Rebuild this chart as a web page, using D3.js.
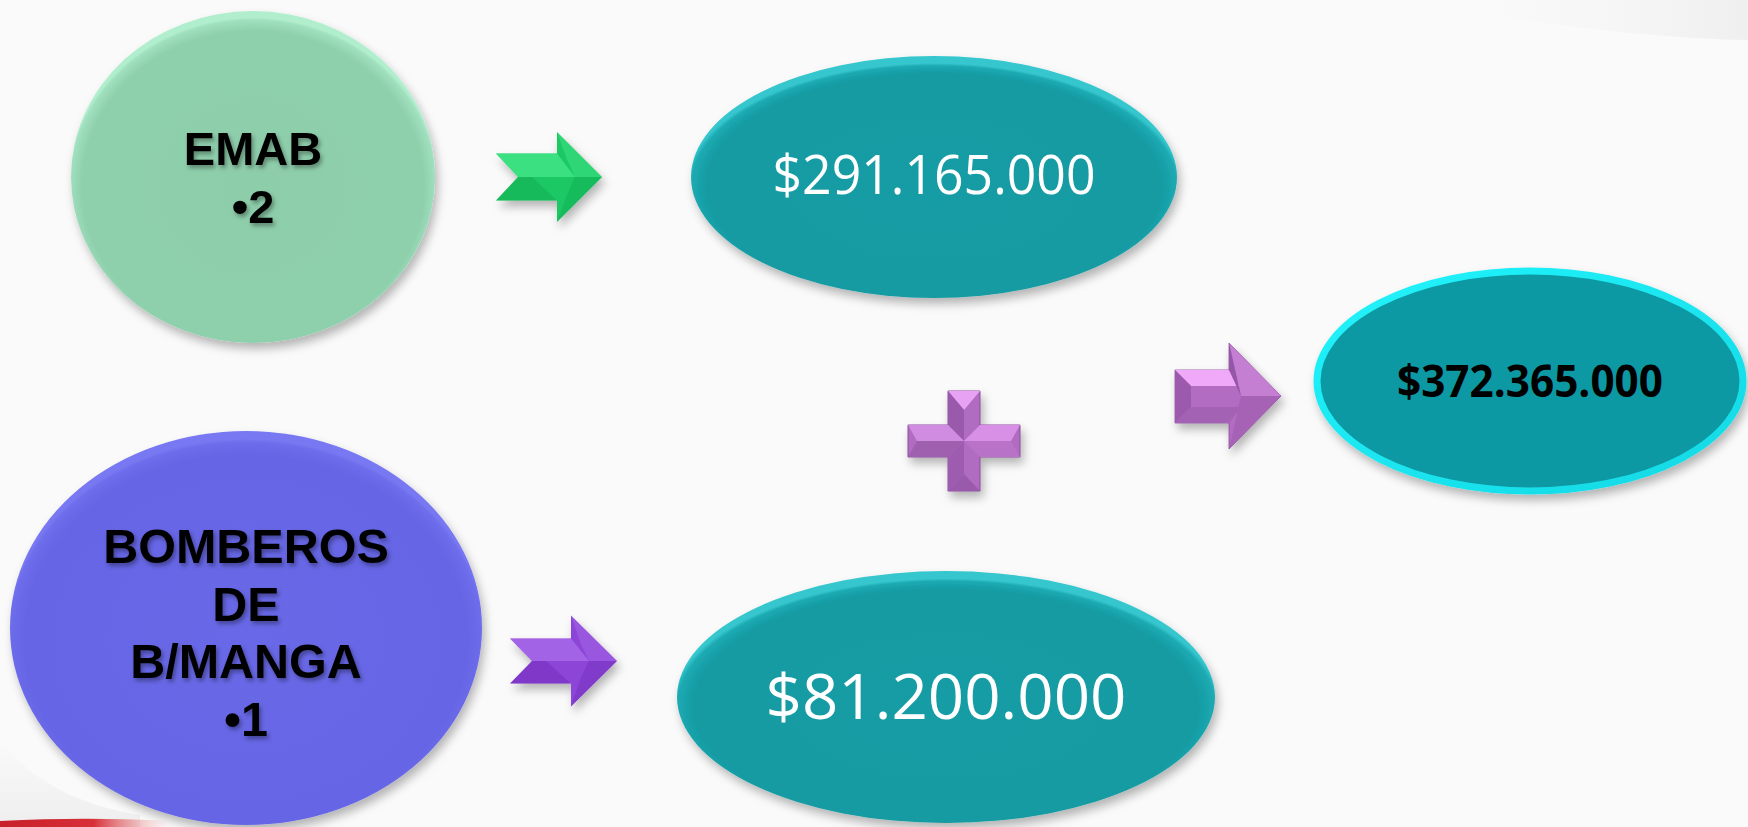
<!DOCTYPE html>
<html>
<head>
<meta charset="utf-8">
<script src="https://cdn.jsdelivr.net/npm/d3@7"></script>
<style>
  html, body { margin: 0; padding: 0; background: #fafafa; }
  svg { display: block; }
</style>
</head>
<body>
<svg id="chart"></svg>
<script>
// datos del diagrama
const entities = ["EMAB", "BOMBEROS DE B/MANGA"];
const entityLines = [["EMAB"], ["BOMBEROS", "DE", "B/MANGA"]];
const units = [2, 1];
const amounts = [291165000, 81200000];

const total = d3.sum(amounts);

const width = 1748, height = 827;
const svg = d3.select("#chart").attr("width", width).attr("height", height);

// formato pesos colombianos: $291.165.000
const cop = d3.formatLocale({decimal: ",", thousands: ".", grouping: [3], currency: ["$", ""]});
const money = cop.format("$,.0f");

// geometria por fila (arriba / abajo)
const rows = d3.scaleOrdinal().domain(entities).range([0, 1]);
const entityShape = [
  {cx: 253, cy: 177, rx: 182, ry: 166, fill: "url(#gGreen)", lineY: 165, step: 58, size: 47},
  {cx: 246, cy: 628, rx: 236, ry: 197, fill: "url(#gBlue)", lineY: 563, step: 57.5, size: 48.5}
];
const arrowShape = [
  {tail: 496, notch: 518, base: 557, tip: 602, mid: 177, sh: 23.5, hh: 45, c: ["#4cf092", "#1ec864", "#07a048"]},
  {tail: 510, notch: 532, base: 571, tip: 617, mid: 661, sh: 22.5, hh: 45.5, c: ["#b27af2", "#8c44d6", "#6a26b0"]}
];
const amountShape = [
  {cx: 934, cy: 177, rx: 243, ry: 121, base: 194, len: 323, size: 54},
  {cx: 946, cy: 697, rx: 269, ry: 126, base: 719, len: 361, size: 62}
];

const defs = svg.append("defs");

function radial(id, stops, cx, cy, r) {
  const g = defs.append("radialGradient").attr("id", id)
    .attr("cx", cx).attr("cy", cy).attr("r", r);
  stops.forEach(s => g.append("stop").attr("offset", s[0]).attr("stop-color", s[1]));
}
radial("gGreen", [[0, "#8dcdaa"], [0.92, "#8ecfac"], [0.985, "#a0e0be"], [1, "#b0eece"]], "50%", "53%", "51%");
radial("gBlue", [[0, "#6868e8"], [0.92, "#6565e5"], [0.985, "#6e6eec"], [1, "#7878f2"]], "50%", "53%", "51%");
radial("gTeal", [[0, "#129ca4"], [0.92, "#139ba3"], [0.98, "#1eaab2"], [1, "#34c6ce"]], "50%", "54%", "51%");

const rim = defs.append("linearGradient").attr("id", "gRim").attr("x1", "0%").attr("y1", "0%").attr("x2", "100%").attr("y2", "100%");
rim.append("stop").attr("offset", 0).attr("stop-color", "#22f4fc");
rim.append("stop").attr("offset", 1).attr("stop-color", "#14d8e4");

const sh = defs.append("filter").attr("id", "shadow").attr("x", "-20%").attr("y", "-20%").attr("width", "140%").attr("height", "150%");
sh.append("feDropShadow").attr("dx", 3).attr("dy", 6).attr("stdDeviation", 5)
  .attr("flood-color", "#000").attr("flood-opacity", 0.28);

const tsh = defs.append("filter").attr("id", "tshadow").attr("x", "-10%").attr("y", "-20%").attr("width", "120%").attr("height", "150%");
tsh.append("feDropShadow").attr("dx", 2).attr("dy", 3).attr("stdDeviation", 2)
  .attr("flood-color", "#000").attr("flood-opacity", 0.35);

// fondo con franjas suaves
svg.append("rect").attr("width", width).attr("height", height).attr("fill", "#fafafa");
const topFade = defs.append("linearGradient").attr("id", "gTop").attr("x1", "0%").attr("x2", "100%");
topFade.append("stop").attr("offset", 0).attr("stop-color", "#fafafa").attr("stop-opacity", 0);
topFade.append("stop").attr("offset", 1).attr("stop-color", "#ececec").attr("stop-opacity", 1);
svg.append("path")
  .attr("d", "M1400,0 L1748,0 L1748,40 C1660,38 1560,28 1400,0 Z")
  .attr("fill", "url(#gTop)").attr("opacity", 0.8);

const redFade = defs.append("linearGradient").attr("id", "gRed").attr("x1", "0%").attr("x2", "100%");
redFade.append("stop").attr("offset", 0).attr("stop-color", "#c8202a");
redFade.append("stop").attr("offset", 0.55).attr("stop-color", "#d83038");
redFade.append("stop").attr("offset", 1).attr("stop-color", "#f0a0a0").attr("stop-opacity", 0);
const greyFade = defs.append("linearGradient").attr("id", "gGrey").attr("x1", "0%").attr("x2", "0%").attr("y1", "0%").attr("y2", "100%");
greyFade.append("stop").attr("offset", 0).attr("stop-color", "#fafafa");
greyFade.append("stop").attr("offset", 1).attr("stop-color", "#eeeeee");
svg.append("path")
  .attr("d", "M0,740 C30,780 80,806 140,815 L140,827 L0,827 Z")
  .attr("fill", "url(#gGrey)");
svg.append("path")
  .attr("d", "M0,821 C60,818 110,818 170,821 L170,827 L0,827 Z")
  .attr("fill", "url(#gRed)");

// circulos de entidades
entities.forEach(name => {
  const i = rows(name), s = entityShape[i];
  const g = svg.append("g");
  g.append("ellipse")
    .attr("cx", s.cx).attr("cy", s.cy).attr("rx", s.rx).attr("ry", s.ry)
    .attr("fill", s.fill).attr("filter", "url(#shadow)");
  const lines = entityLines[i].concat(["\u2022" + units[i]]);
  g.selectAll("text").data(lines).enter().append("text")
    .attr("x", s.cx)
    .attr("y", (d, k) => s.lineY + k * s.step)
    .attr("text-anchor", "middle")
    .attr("font-family", "'Liberation Sans', Arial, sans-serif")
    .attr("font-weight", "bold")
    .attr("font-size", s.size)
    .attr("fill", "#000")
    .attr("filter", "url(#tshadow)")
    .text(d => d);
});

// flechas con bisel
function bevelArrow(a) {
  const t = a.mid - a.sh, b = a.mid + a.sh, ht = a.mid - a.hh, hb = a.mid + a.hh;
  const g = svg.append("g").attr("filter", "url(#shadow)");
  const line = d3.line();
  g.append("path").attr("d", line([[a.tail, t], [a.base, t], [a.base, ht], [a.tip, a.mid], [a.base, hb], [a.base, b], [a.tail, b], [a.notch, a.mid]]) + "Z")
    .attr("fill", a.c[1]);
  // cara superior clara
  g.append("path").attr("d", line([[a.tail, t], [a.base, t], [a.base + 18, a.mid], [a.notch + 14, a.mid], [a.notch, a.mid]]) + "Z")
    .attr("fill", a.c[0]).attr("opacity", 0.6);
  g.append("path").attr("d", line([[a.base, ht], [a.tip, a.mid], [a.base + 18, a.mid], [a.base + 10, t + 6]]) + "Z")
    .attr("fill", a.c[0]).attr("opacity", 0.35);
  // cara inferior oscura
  g.append("path").attr("d", line([[a.tail, b], [a.notch, a.mid], [a.notch + 14, a.mid], [a.base, b]]) + "Z")
    .attr("fill", a.c[2]).attr("opacity", 0.35);
  g.append("path").attr("d", line([[a.base, hb], [a.tip, a.mid], [a.base + 18, a.mid], [a.base + 10, b - 6]]) + "Z")
    .attr("fill", a.c[2]).attr("opacity", 0.3);
}
arrowShape.forEach(bevelArrow);

// montos
entities.forEach(name => {
  const i = rows(name), s = amountShape[i];
  svg.append("ellipse")
    .attr("cx", s.cx).attr("cy", s.cy).attr("rx", s.rx).attr("ry", s.ry)
    .attr("fill", "url(#gTeal)").attr("filter", "url(#shadow)");
  svg.append("text")
    .attr("x", s.cx).attr("y", s.base)
    .attr("text-anchor", "middle")
    .attr("font-family", "'Open Sans', 'Noto Sans', sans-serif")
    .attr("font-size", s.size)
    .attr("textLength", s.len)
    .attr("lengthAdjust", "spacingAndGlyphs")
    .attr("fill", "#fff")
    .text(money(amounts[i]));
});

// signo mas
(function plus() {
  const cx = 964, cy = 441, w = 16, L = 56, H = 50, d = 9;
  const g = svg.append("g").attr("filter", "url(#shadow)");
  const line = d3.line();
  g.append("path")
    .attr("d", line([[cx - w, cy - H], [cx + w, cy - H], [cx + w, cy - w], [cx + L, cy - w], [cx + L, cy + w],
      [cx + w, cy + w], [cx + w, cy + H], [cx - w, cy + H], [cx - w, cy + w], [cx - L, cy + w], [cx - L, cy - w], [cx - w, cy - w]]) + "Z")
    .attr("fill", "#b06cc0").attr("stroke", "#8a4c9c").attr("stroke-width", 1);
  // biseles
  g.append("path").attr("d", line([[cx - w, cy - H], [cx + w, cy - H], [cx, cy - H + d + 10]]) + "Z").attr("fill", "#e8a2f4");
  g.append("path").attr("d", line([[cx - w, cy - H], [cx, cy - H + d + 10], [cx, cy], [cx - w, cy - w]]) + "Z").attr("fill", "#9a5aac");
  g.append("path").attr("d", line([[cx - L, cy - w], [cx - w, cy - w], [cx, cy], [cx - L + d, cy]]) + "Z").attr("fill", "#d08ce0");
  g.append("path").attr("d", line([[cx + w, cy - w], [cx + L, cy - w], [cx + L - d, cy], [cx, cy]]) + "Z").attr("fill", "#d890e6");
  g.append("path").attr("d", line([[cx - L, cy + w], [cx - L + d, cy], [cx, cy], [cx - w, cy + w]]) + "Z").attr("fill", "#a060b0");
  g.append("path").attr("d", line([[cx + L, cy + w], [cx + L - d, cy], [cx, cy], [cx + w, cy + w]]) + "Z").attr("fill", "#b872c8");
  g.append("path").attr("d", line([[cx - w, cy + H], [cx + w, cy + H], [cx, cy + H - d - 8]]) + "Z").attr("fill", "#9a5aac");
  g.append("path").attr("d", line([[cx - w, cy + w], [cx, cy], [cx, cy + H - d - 8], [cx - w, cy + H]]) + "Z").attr("fill", "#9e5cb0");
})();

// flecha hacia el total
(function sumArrow() {
  const tail = 1175, base = 1229, tip = 1281, mid = 396, t = 370, b = 423, ht = 343, hb = 449, d = 16;
  const g = svg.append("g").attr("filter", "url(#shadow)");
  const line = d3.line();
  g.append("path").attr("d", line([[tail, t], [base, t], [base, ht], [tip, mid], [base, hb], [base, b], [tail, b]]) + "Z")
    .attr("fill", "#b26cc2").attr("stroke", "#8c4c9c").attr("stroke-width", 0.8);
  g.append("path").attr("d", line([[tail, t], [base, t], [base + 12, t + d], [tail + d, t + d]]) + "Z").attr("fill", "#f0a8f8");
  g.append("path").attr("d", line([[tail, t], [tail + d, t + d], [tail + d, b - d], [tail, b]]) + "Z").attr("fill", "#9c5aac");
  g.append("path").attr("d", line([[tail, b], [tail + d, b - d], [base + 12, b - d], [base, b]]) + "Z").attr("fill", "#a462b4");
  g.append("path").attr("d", line([[base, ht], [tip, mid], [base + 12, mid]]) + "Z").attr("fill", "#c47ed2");
  g.append("path").attr("d", line([[base, ht], [base + 12, mid], [base, t]]) + "Z").attr("fill", "#9656a8");
  g.append("path").attr("d", line([[base, hb], [tip, mid], [base + 12, mid]]) + "Z").attr("fill", "#a664b6");
})();

// total
svg.append("ellipse")
  .attr("cx", 1530).attr("cy", 381).attr("rx", 213).attr("ry", 110)
  .attr("fill", "#0e99a3").attr("stroke", "url(#gRim)").attr("stroke-width", 7)
  .attr("filter", "url(#shadow)");
svg.append("text")
  .attr("x", 1530).attr("y", 397)
  .attr("text-anchor", "middle")
  .attr("font-family", "'Open Sans', 'Noto Sans', sans-serif")
  .attr("font-weight", "bold")
  .attr("font-size", 44)
  .attr("textLength", 266)
  .attr("lengthAdjust", "spacingAndGlyphs")
  .attr("fill", "#000")
  .text(money(total));
</script>
</body>
</html>
